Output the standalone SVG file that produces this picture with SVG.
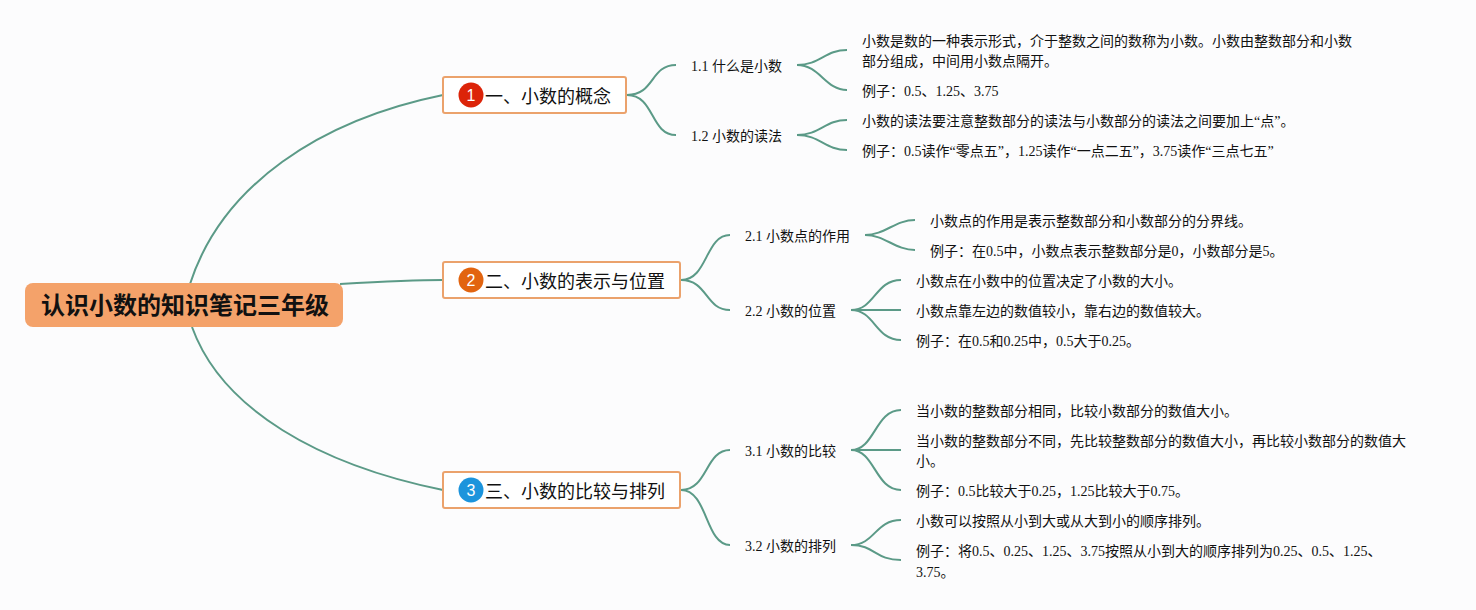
<svg xmlns="http://www.w3.org/2000/svg" width="1476" height="610" viewBox="0 0 1476 610">
<style>
text{font-family:"Liberation Serif","Noto Sans CJK SC",serif;fill:#111;font-size:14px}
.t{font-size:18px;font-family:"Liberation Sans","Noto Sans CJK SC",sans-serif;fill:#111}
.r{font-size:24px;font-weight:700;font-family:"Liberation Sans","Noto Sans CJK SC",sans-serif;fill:#111}
.b{font-size:16px;font-family:"Liberation Sans","Noto Sans CJK SC",sans-serif;fill:#fff;text-anchor:middle}
.box{fill:#fff;stroke:#eba26c;stroke-width:2}
#connectors path{fill:none;stroke:#5b9a87;stroke-width:2}
</style>
<rect width="1476" height="610" fill="#fcfcfd"/>
<g id="connectors">
<path d="M190 284C222 185 320 120 443 95"/>
<path d="M340 284C375 282 410 280 443 280"/>
<path d="M192 327C222 410 320 465 443 490"/>
<path d="M627 95C655 95 650 65 676 65"/>
<path d="M627 95C655 95 650 135 676 135"/>
<path d="M797 65C820 65 825 50 847 50"/>
<path d="M797 65C820 65 825 90 847 90"/>
<path d="M797 135C820 135 825 120 847 120"/>
<path d="M797 135C820 135 825 150 847 150"/>
<path d="M681 280C708 280 705 235 730 235"/>
<path d="M681 280C708 280 705 310 730 310"/>
<path d="M865 235C885 235 895 220 915 220"/>
<path d="M865 235C885 235 895 250 915 250"/>
<path d="M851 310C875 310 875 280 901 280"/>
<path d="M851 310H901"/>
<path d="M851 310C875 310 875 340 901 340"/>
<path d="M681 490C708 490 705 450 730 450"/>
<path d="M681 490C708 490 705 545 730 545"/>
<path d="M851 450C875 450 875 410 901 410"/>
<path d="M851 450H901"/>
<path d="M851 450C875 450 875 490 901 490"/>
<path d="M851 545C875 545 875 520 901 520"/>
<path d="M851 545C875 545 875 560 901 560"/>
</g>
<g id="root"><rect x="25" y="283" width="318" height="44" rx="8" fill="#f4a26a"/><text class="r" x="41" y="314">认识小数的知识笔记三年级</text></g>
<g id="n1"><rect class="box" x="443" y="77" width="183" height="36" rx="2"/><circle cx="471" cy="95" r="12.5" fill="#dc2409"/><text class="b" x="471" y="101">1</text><text class="t" x="485" y="103">一、小数的概念</text></g>
<g id="n2"><rect class="box" x="443" y="262" width="237" height="36" rx="2"/><circle cx="471" cy="280" r="12.5" fill="#e2640f"/><text class="b" x="471" y="286">2</text><text class="t" x="485" y="288">二、小数的表示与位置</text></g>
<g id="n3"><rect class="box" x="443" y="472" width="237" height="36" rx="2"/><circle cx="471" cy="490" r="12.5" fill="#1c94dc"/><text class="b" x="471" y="496">3</text><text class="t" x="485" y="498">三、小数的比较与排列</text></g>
<g id="n11"><text x="691" y="71">1.1 什么是小数</text></g>
<g id="n111"><text x="862" y="46">小数是数的一种表示形式，介于整数之间的数称为小数。小数由整数部分和小数</text><text x="862" y="66">部分组成，中间用小数点隔开。</text></g>
<g id="n112"><text x="862" y="96">例子：0.5、1.25、3.75</text></g>
<g id="n12"><text x="691" y="141">1.2 小数的读法</text></g>
<g id="n121"><text x="862" y="126">小数的读法要注意整数部分的读法与小数部分的读法之间要加上“点”。</text></g>
<g id="n122"><text x="862" y="156">例子：0.5读作“零点五”，1.25读作“一点二五”，3.75读作“三点七五”</text></g>
<g id="n21"><text x="745" y="241">2.1 小数点的作用</text></g>
<g id="n211"><text x="930" y="226">小数点的作用是表示整数部分和小数部分的分界线。</text></g>
<g id="n212"><text x="930" y="256">例子：在0.5中，小数点表示整数部分是0，小数部分是5。</text></g>
<g id="n22"><text x="745" y="316">2.2 小数的位置</text></g>
<g id="n221"><text x="916" y="286">小数点在小数中的位置决定了小数的大小。</text></g>
<g id="n222"><text x="916" y="316">小数点靠左边的数值较小，靠右边的数值较大。</text></g>
<g id="n223"><text x="916" y="346">例子：在0.5和0.25中，0.5大于0.25。</text></g>
<g id="n31"><text x="745" y="456">3.1 小数的比较</text></g>
<g id="n311"><text x="916" y="416">当小数的整数部分相同，比较小数部分的数值大小。</text></g>
<g id="n312"><text x="916" y="446">当小数的整数部分不同，先比较整数部分的数值大小，再比较小数部分的数值大</text><text x="916" y="466">小。</text></g>
<g id="n313"><text x="916" y="496">例子：0.5比较大于0.25，1.25比较大于0.75。</text></g>
<g id="n32"><text x="745" y="551">3.2 小数的排列</text></g>
<g id="n321"><text x="916" y="526">小数可以按照从小到大或从大到小的顺序排列。</text></g>
<g id="n322"><text x="916" y="556">例子：将0.5、0.25、1.25、3.75按照从小到大的顺序排列为0.25、0.5、1.25、</text><text x="916" y="577">3.75。</text></g>
</svg>
